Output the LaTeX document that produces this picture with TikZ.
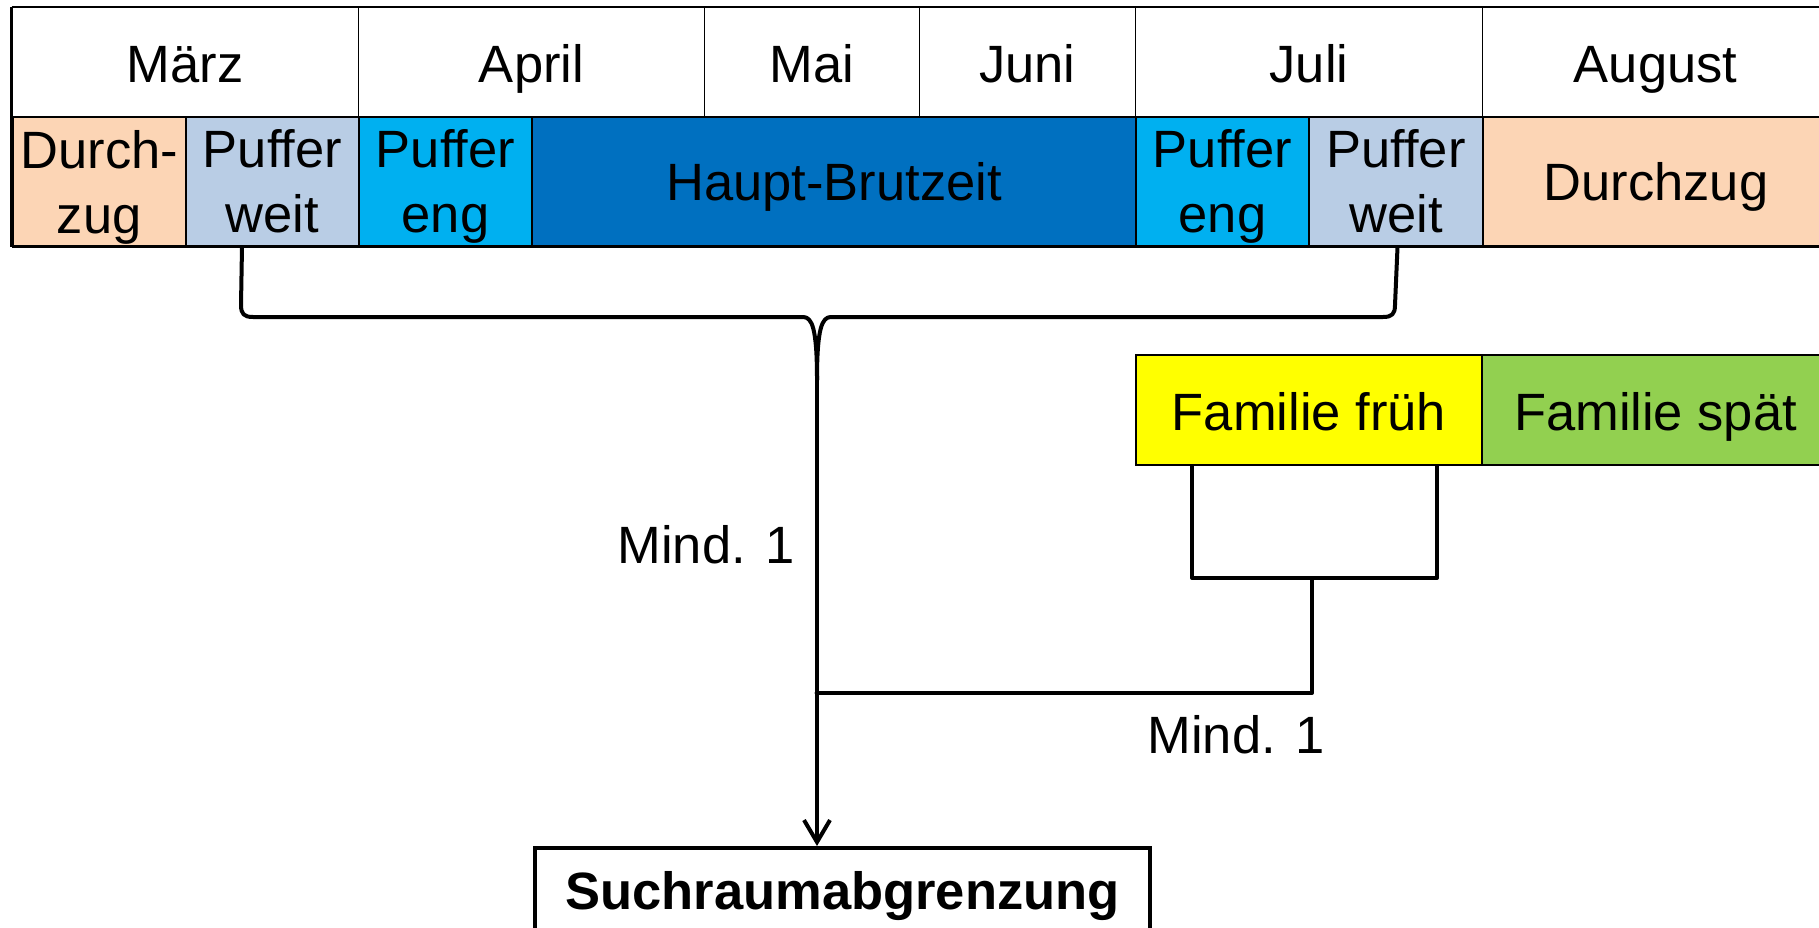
\documentclass[tikz,border=0pt]{standalone}
\usepackage{fontspec}
\setmainfont{Liberation Sans}
\usetikzlibrary{arrows.meta}
\definecolor{peach}{HTML}{FCD5B5}
\definecolor{grayblue}{HTML}{B9CDE5}
\definecolor{lightblue}{HTML}{00B0F0}
\definecolor{darkblue}{HTML}{0070C0}
\definecolor{famyellow}{HTML}{FFFF00}
\definecolor{famgreen}{HTML}{92D050}
\newcommand\bigfs{\fontsize{52.5pt}{65pt}\selectfont}
\begin{document}
\begin{tikzpicture}[x=1pt,y=-1pt,
  hcell/.style={draw=black, line width=1pt, inner sep=0pt, anchor=north west,
    minimum height=109pt, font=\bigfs, text height=41pt, text depth=0pt},
  bcell/.style={draw=black, line width=2pt, inner sep=0pt, anchor=north west,
    minimum height=129pt, font=\bigfs, align=center},
  fcell/.style={draw=black, line width=2pt, inner sep=0pt, anchor=north west,
    minimum height=110pt, font=\bigfs, text height=40pt, text depth=0pt},
  conn/.style={line width=4pt, line join=round, line cap=round},
  lbl/.style={font=\bigfs, inner sep=0pt, text height=38pt, text depth=0pt},
  tline/.style={line width=2.5pt}]
\useasboundingbox (0,0) rectangle (1819,928);
\clip (0,0) rectangle (1819,928);

% header row
\node[hcell, minimum width=346.5pt] (mar) at (11.5,7) {März};
\node[hcell, minimum width=346pt] (apr) at (358,7) {April};
\node[hcell, minimum width=215pt] (mai) at (704,7) {Mai};
\node[hcell, minimum width=216pt] (jun) at (919,7) {Juni};
\node[hcell, minimum width=347pt] (jul) at (1135,7) {Juli};
\node[hcell, minimum width=346pt] (aug) at (1482,7) {August};

% phase row
\node[bcell, fill=peach, minimum width=173.5pt] (d1) at (11.5,116) {Durch-\\\smash{zug}};
\node[bcell, fill=grayblue, minimum width=173pt] (pw1) at (185,116) {Puffer\\weit};
\node[bcell, fill=lightblue, minimum width=173pt] (pe1) at (358,116) {Puffer\\\smash{eng}};
\node[bcell, fill=darkblue, minimum width=604pt, text height=38pt, text depth=0pt] (hb) at (531,116) {Haupt-Brutzeit};
\node[bcell, fill=lightblue, minimum width=173pt] (pe2) at (1135,116) {Puffer\\\smash{eng}};
\node[bcell, fill=grayblue, minimum width=174pt] (pw2) at (1308,116) {Puffer\\weit};
\node[bcell, fill=peach, minimum width=346pt, text height=38pt, text depth=0pt] (d2) at (1482,116) {Durchzug};

% table rules
\draw[tline] (mar.north west) -- (aug.north east);
\draw[tline] (mar.south west) -- (aug.south east);
\draw[tline] (d1.south west) -- (d2.south east);
\draw[line width=3pt] (mar.north west) -- (d1.south west);

% family boxes
\node[fcell, fill=famyellow, minimum width=346pt] (ff) at (1135,354) {Familie früh};
\node[fcell, fill=famgreen, minimum width=347pt] (fs) at (1481,354) {Familie spät};

% target box
\node[draw=black, line width=4pt, inner sep=0pt, anchor=north west,
  minimum width=615pt, minimum height=84pt, font=\bfseries\bigfs,
  text height=38pt, text depth=0pt] (such) at (533,846) {Suchraumabgrenzung};

% brace
\coordinate (cusp) at (817,380);
\draw[conn] ([xshift=-30.5pt]pw1.south) -- (241,305)
  .. controls (241,314) and (244,317) .. (253,317) -- (803,317)
  .. controls (812,317) and (817,328) .. (cusp);
\draw[conn] ([xshift=1.5pt]pw2.south) -- (1395,305)
  .. controls (1395,314) and (1392,317) .. (1383,317) -- (831,317)
  .. controls (822,317) and (817,328) .. (cusp);
\draw[conn, -{Straight Barb[length=22pt,width=26pt]}] (cusp) -- ([xshift=-25.5pt]such.north);

% family connectors
\coordinate (fj) at (1312,578);
\coordinate (mj) at (816.6,693);
\draw[conn] ([xshift=57pt]ff.south west) |- (fj) -| ([xshift=-46pt]ff.south east);
\draw[conn] (fj) |- (mj);

% labels
\node[lbl] (m1) at (706,544) {Mind. 1};
\node[lbl] (m2) at (1236,734) {Mind. 1};
\end{tikzpicture}
\end{document}
